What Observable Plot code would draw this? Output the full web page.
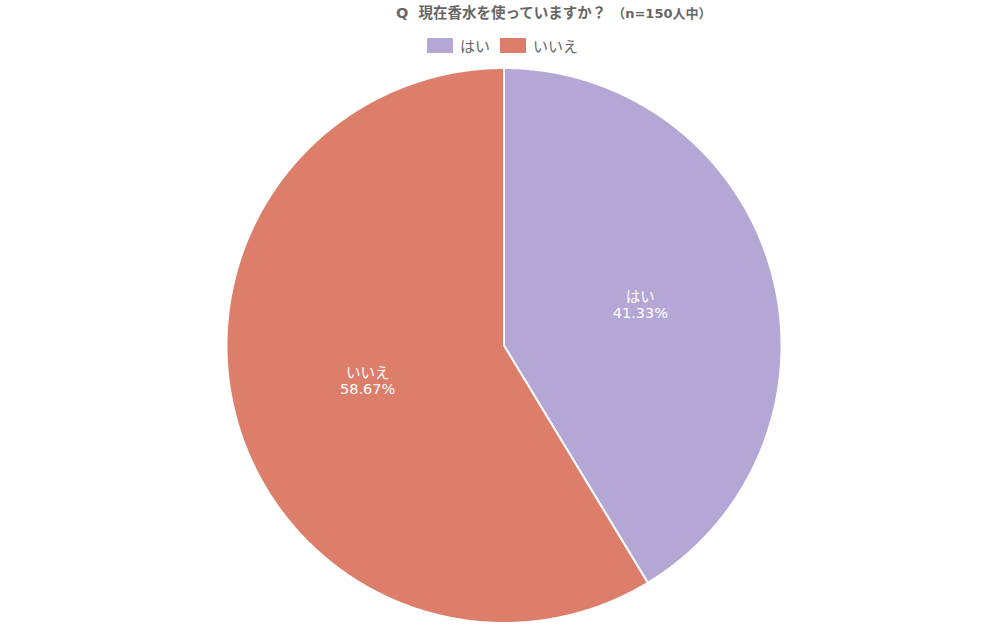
<!DOCTYPE html>
<html><head><meta charset="utf-8">
<script src="https://cdn.jsdelivr.net/npm/d3@7"></script>
<script src="https://cdn.jsdelivr.net/npm/@observablehq/plot@0.6"></script>
<style>
body{margin:0;background:#fff;font-family:"DejaVu Sans","Noto Sans CJK JP",sans-serif;position:relative;width:1007px;height:625px;overflow:hidden;}
#title{position:absolute;left:396px;top:3px;height:20px;line-height:20px;white-space:nowrap;color:#666;font-weight:bold;font-size:14.5px;}
#title small{font-size:13px;margin-left:6px;}
#legend{position:absolute;left:427px;top:36px;height:18px;display:flex;align-items:center;color:#666;font-size:15px;white-space:nowrap;}
.sw{display:inline-block;width:26px;height:15px;margin-right:7px;}
.it{display:flex;align-items:center;margin-right:10px;}
#chart{position:absolute;left:0;top:58px;}
</style></head>
<body>
<div id="title">Q&nbsp;&nbsp;現在香水を使っていますか？<small>（n=150人中）</small></div>
<div id="legend"></div>
<div id="chart"></div>
<script>
const categories = ["はい", "いいえ"];
const values = [41.33, 58.67];
const colors = ["#b4a7d6", "#dd7e6b"];

const W = 1007, H = 567;
const cx = 503.5, cy = 287, R = 277.5;

const arcs = d3.pie().sort(null).value(d => d)(values);
const poly = [];
const labels = [];
arcs.forEach((a, i) => {
  const n = Math.max(2, Math.ceil((a.endAngle - a.startAngle) * 120));
  poly.push({cat: categories[i], x: 0, y: 0});
  for (let k = 0; k <= n; k++) {
    const t = a.startAngle + (a.endAngle - a.startAngle) * k / n;
    poly.push({cat: categories[i], x: R * Math.sin(t), y: R * Math.cos(t)});
  }
  poly.push({cat: categories[i], x: 0, y: 0});
  const m = (a.startAngle + a.endAngle) / 2;
  labels.push({x: 0.51 * R * Math.sin(m), y: 0.51 * R * Math.cos(m) + 3,
    text: categories[i] + "\n" + values[i].toFixed(2) + "%"});
});

const leg = document.getElementById("legend");
categories.forEach((c, i) => {
  const s = document.createElement("span"); s.className = "it";
  s.innerHTML = `<span class="sw" style="background:${colors[i]}"></span>${c}`;
  leg.appendChild(s);
});

const chart = Plot.plot({
  width: W, height: H,
  margin: 0,
  x: {domain: [-cx, W - cx], range: [0, W], axis: null},
  y: {domain: [-(H - cy), cy], range: [H, 0], axis: null},
  color: {domain: categories, range: colors},
  marks: [
    Plot.line(poly, {x: "x", y: "y", z: "cat", fill: "cat", stroke: "white", strokeWidth: 2, curve: "linear"}),
    Plot.text(labels, {x: "x", y: "y", text: "text", fill: "white", fontSize: 14.5, lineHeight: 1.1,
      fontFamily: "'DejaVu Sans', 'Noto Sans CJK JP', sans-serif"})
  ]
});
document.getElementById("chart").appendChild(chart);
</script>
</body></html>
